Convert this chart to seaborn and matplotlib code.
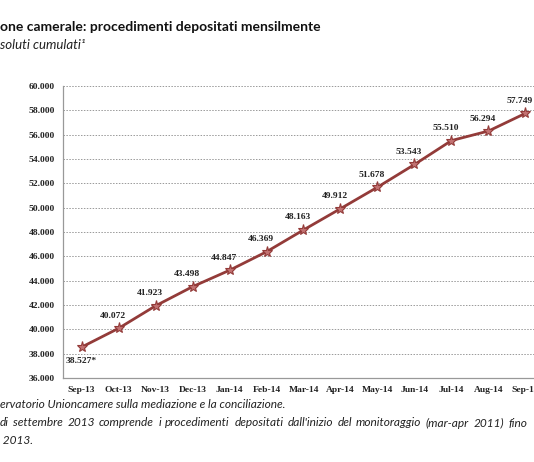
import pandas as pd
import matplotlib.pyplot as plt
import seaborn as sns
from matplotlib.ticker import FixedLocator, FuncFormatter

# data
months = ["Sep-13", "Oct-13", "Nov-13", "Dec-13", "Jan-14", "Feb-14", "Mar-14",
          "Apr-14", "May-14", "Jun-14", "Jul-14", "Aug-14", "Sep-14"]
deposited = [38527, 40072, 41923, 43498, 44847, 46369, 48163,
             49912, 51678, 53543, 55510, 56294, 57749]
y_ticks = list(range(36000, 60001, 2000))

df = pd.DataFrame({"Mese": months, "Procedimenti": deposited})

sns.set_style("white")
serif = "Liberation Serif"
sans = ["Lato", "DejaVu Sans"]

def ita(v):
    return f"{int(v):,}".replace(",", ".")

W, H = 534, 462
fig = plt.figure(figsize=(W / 100, H / 100), dpi=100)
ax = fig.add_axes([0.118, 0.182, 0.9007, 0.632])

sns.lineplot(data=df, x="Mese", y="Procedimenti", ax=ax, color="#933b39",
             linewidth=2, marker="*", markersize=8,
             markerfacecolor="#c27272", markeredgecolor="#933b39",
             markeredgewidth=0.8, sort=False)

ax.set_xlim(-0.5, len(months) - 0.5)
ax.set_ylim(36000, 60000)
ax.yaxis.set_major_locator(FixedLocator(y_ticks))
ax.yaxis.set_major_formatter(FuncFormatter(lambda v, p: ita(v)))
ax.grid(axis="y", linestyle=(0, (1.5, 1.5)), color="#999999", linewidth=0.7)
ax.set_axisbelow(True)

for s in ["top", "right"]:
    ax.spines[s].set_visible(False)
for s in ["left", "bottom"]:
    ax.spines[s].set_color("#999999")
    ax.spines[s].set_linewidth(0.9)

ax.set_xlabel("")
ax.set_ylabel("")
ax.xaxis.set_minor_locator(FixedLocator([i + 0.5 for i in range(len(months))]))
ax.tick_params(axis="x", which="major", length=0, pad=6)
ax.tick_params(axis="x", which="minor", length=4, color="#999999", direction="out")
ax.tick_params(axis="y", length=0, pad=6)
for lab in ax.get_xticklabels() + ax.get_yticklabels():
    lab.set_fontfamily(serif)
    lab.set_fontweight("bold")
    lab.set_fontsize(6.8)
    lab.set_color("#222222")

# data labels
for i, v in enumerate(deposited):
    if i == 0:
        ax.annotate(ita(v) + "*", (i, v), xytext=(0, -10), textcoords="offset points",
                    ha="center", va="center", fontsize=6.8, fontweight="bold",
                    fontfamily=serif, color="#222222")
    else:
        ax.annotate(ita(v), (i, v), xytext=(-4, 9), textcoords="offset points",
                    ha="center", va="center", fontsize=6.8, fontweight="bold",
                    fontfamily=serif, color="#222222")

# title, subtitle and notes (cut at the left edge as in the picture)
fig.text(0.0, 1 - 27 / H, "one camerale: procedimenti depositati mensilmente",
         fontsize=10, fontweight="bold", family=sans, ha="left", va="center", color="#111111")
fig.text(0.0, 1 - 45 / H, "soluti cumulati\u00b9", fontsize=9.5, style="italic",
         family=sans, ha="left", va="center", color="#222222")
note_kw = dict(fontsize=8.6, style="italic", family=sans, va="center", color="#222222")
fig.text(0.0, 1 - 404 / H, "ervatorio Unioncamere sulla mediazione e la conciliazione.",
         ha="left", **note_kw)

# justified second line of the note
words = ("di settembre 2013 comprende i procedimenti depositati dall'inizio "
         "del monitoraggio (mar-apr 2011) fino").split()
renderer = fig.canvas.get_renderer()
texts = [fig.text(0, 1 - 423 / H, w, ha="left", **note_kw) for w in words]
widths = [t.get_window_extent(renderer).width for t in texts]
gap = (527 - sum(widths)) / (len(words) - 1)
x = 0.0
for t, w in zip(texts, widths):
    t.set_x(x / W)
    x += w + gap
fig.text(0.0, 1 - 441 / H, " 2013.", ha="left", **note_kw)

fig.savefig("out.png", dpi=100)
